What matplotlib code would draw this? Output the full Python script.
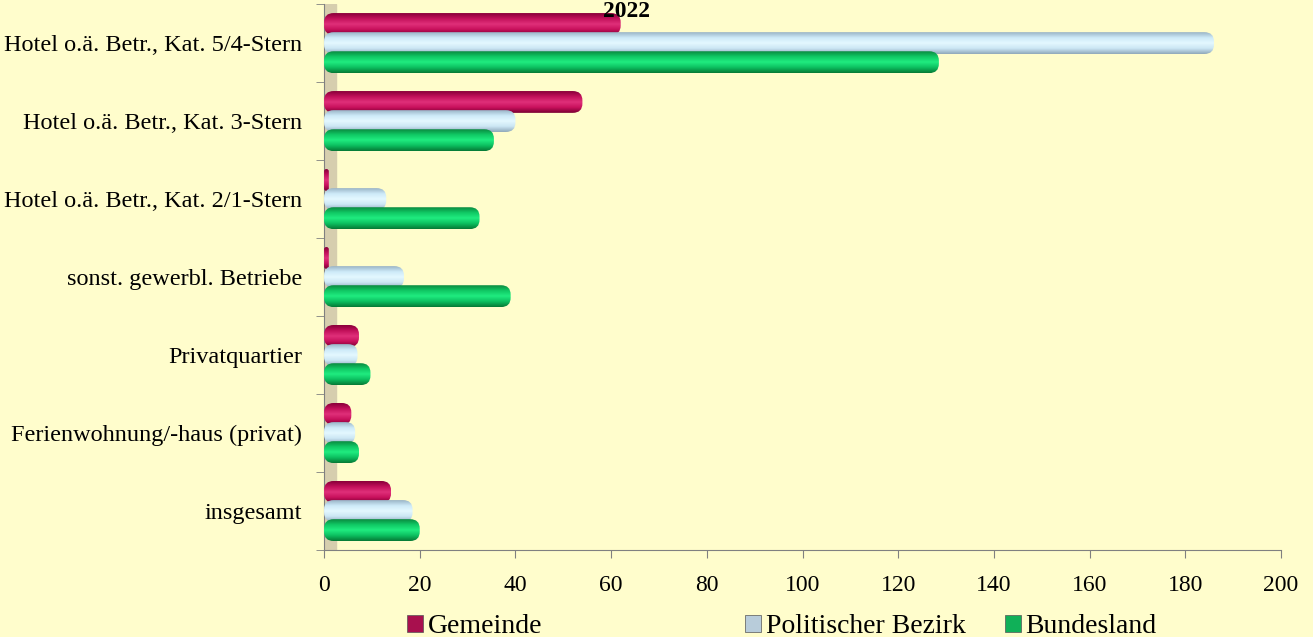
import numpy as np
import matplotlib
matplotlib.use("Agg")
import matplotlib.pyplot as plt
from matplotlib.patches import FancyBboxPatch, Patch
from matplotlib.colors import LinearSegmentedColormap

categories = ["Hotel o.ä. Betr., Kat. 5/4-Stern", "Hotel o.ä. Betr., Kat. 3-Stern",
              "Hotel o.ä. Betr., Kat. 2/1-Stern", "sonst. gewerbl. Betriebe",
              "Privatquartier", "Ferienwohnung/-haus (privat)", "insgesamt"]
series_names = ["Gemeinde", "Politischer Bezirk", "Bundesland"]
gemeinde = [62, 54, 1, 1, 7.3, 5.7, 14]
bezirk = [186, 40, 13, 16.7, 7, 6.5, 18.5]
bundesland = [128.5, 35.5, 32.5, 39, 9.7, 7.3, 20]
title = "2022"
xticks = [0, 20, 40, 60, 80, 100, 120, 140, 160, 180, 200]

plt.rcParams['font.family'] = ['Liberation Serif', 'DejaVu Serif']
BG = "#FFFDCC"

grads = [
    ["#8A003A", "#C2105A", "#E0307A", "#C8105C", "#7A0032"],
    ["#9AB4C6", "#CDEAF8", "#E4F8FF", "#CBE6F4", "#8FA8BA"],
    ["#0A8A40", "#10C864", "#20EC80", "#0CC060", "#067A36"],
]
legend_cols = ["#A8104E", "#B8CCDA", "#10B058"]
legend_x = [412, 750, 1010]

fig = plt.figure(figsize=(13.13, 6.37), dpi=100, facecolor=BG)
ax = fig.add_axes([0.2468, 0.1366, 0.7288, 0.857])
ax.set_facecolor(BG)

n = len(categories)
y = np.arange(n)
h = 0.28
data = [gemeinde, bezirk, bundesland]

# left wall
ax.axvspan(0, 2.4, color="#D6CEAE", zorder=1)

for i, vals in enumerate(data):
    bars = ax.barh(y + (i - 1) * 0.245, vals, height=h, color="none", zorder=2)
    cmap = LinearSegmentedColormap.from_list("g%d" % i, grads[i])
    grad = np.linspace(0, 1, 64).reshape(-1, 1)
    for b in bars:
        x0, y0, w, hh = b.get_x(), b.get_y(), b.get_width(), b.get_height()
        r = min(2.0, w / 2)
        p = FancyBboxPatch((x0, y0), w, hh,
                           boxstyle="round,pad=0,rounding_size=%f" % r,
                           mutation_aspect=0.06, facecolor="none", edgecolor="none",
                           zorder=3 + i)
        ax.add_patch(p)
        im = ax.imshow(grad, cmap=cmap, aspect="auto", extent=(x0, x0 + w, y0 + hh, y0),
                       zorder=3 + i, interpolation="bilinear")
        im.set_clip_path(p)
ax.set_xlim(0, 200)
ax.set_ylim(n - 0.5, -0.5)

ax.set_yticks(y)
ax.set_yticklabels(categories, fontsize=17.5)
ax.set_yticks(np.arange(n + 1) - 0.5, minor=True)
ax.tick_params(axis="y", which="major", length=0, pad=16)
ax.tick_params(axis="y", which="minor", length=6, color="#808080", direction="out")
ax.set_xticks(xticks)
ax.set_xticklabels([str(t) for t in xticks], fontsize=17)
ax.tick_params(axis="x", length=6, color="#808080", pad=12)
for s in ["top", "right"]:
    ax.spines[s].set_visible(False)
for s in ["left", "bottom"]:
    ax.spines[s].set_color("#808080")

fig.text(0.4775, 0.999, title, ha="center", va="top", fontsize=17, fontweight="bold", zorder=10)

W = 1313.0
for name, col, lx in zip(series_names, legend_cols, legend_x):
    hnd = Patch(facecolor=col, edgecolor="#555555", linewidth=0.5)
    fig.legend([hnd], [name], loc="center left", bbox_to_anchor=(lx / W - 0.004, 0.016),
               frameon=False, fontsize=20, handlelength=0.6, handleheight=0.6,
               handletextpad=0.15, borderpad=0, borderaxespad=0)

fig.savefig("out.png", dpi=100, facecolor=BG)
